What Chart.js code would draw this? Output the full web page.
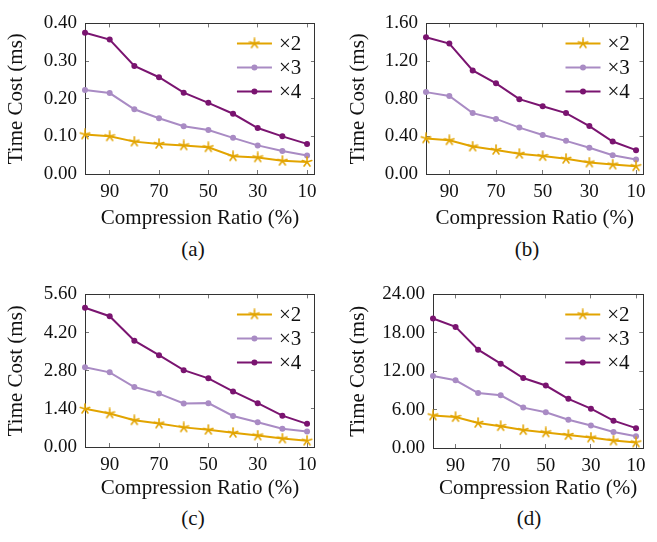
<!DOCTYPE html>
<html>
<head>
<meta charset="utf-8">
<script src="https://cdn.jsdelivr.net/npm/chart.js@4.4.1/dist/chart.umd.min.js"></script>
<style>
  body { margin: 0; background: #fff; }
  #wrap { position: relative; width: 657px; height: 542px; overflow: hidden; }
  canvas { position: absolute; }
  .cap { position: absolute; width: 60px; text-align: center; font: 21px "Liberation Serif", serif; color: #111; line-height: 24px; }
</style>
</head>
<body>
<div id="wrap">
  <canvas id="chartA" width="328" height="235" style="left:0px;top:0px"></canvas>
  <canvas id="chartB" width="316" height="235" style="left:341px;top:0px"></canvas>
  <canvas id="chartC" width="328" height="235" style="left:0px;top:271px"></canvas>
  <canvas id="chartD" width="316" height="235" style="left:341px;top:271px"></canvas>
  <div class="cap" style="left:163px;top:237px">(a)</div>
  <div class="cap" style="left:497px;top:237px">(b)</div>
  <div class="cap" style="left:163px;top:506px">(c)</div>
  <div class="cap" style="left:499px;top:506px">(d)</div>
</div>
<script>
// compression ratio (%)
const ratios = [100, 90, 80, 70, 60, 50, 40, 30, 20, 10];
const xTicks = [90, 70, 50, 30, 10];
const seriesNames = ['×2', '×3', '×4'];

// (a)
const a2 = [0.105, 0.100, 0.086, 0.080, 0.076, 0.071, 0.047, 0.044, 0.035, 0.032];
const a3 = [0.223, 0.215, 0.172, 0.148, 0.127, 0.117, 0.096, 0.076, 0.061, 0.049];
const a4 = [0.375, 0.357, 0.287, 0.257, 0.216, 0.189, 0.160, 0.122, 0.100, 0.080];
const aTicks = [0, 0.1, 0.2, 0.3, 0.4];

// (b)
const b2 = [0.378, 0.358, 0.292, 0.256, 0.214, 0.190, 0.161, 0.122, 0.100, 0.082];
const b3 = [0.870, 0.828, 0.647, 0.585, 0.493, 0.414, 0.352, 0.279, 0.200, 0.154];
const b4 = [1.452, 1.386, 1.100, 0.963, 0.795, 0.720, 0.647, 0.509, 0.345, 0.253];
const bTicks = [0, 0.4, 0.8, 1.2, 1.6];

// (c)
const c2 = [1.40, 1.23, 0.98, 0.86, 0.72, 0.63, 0.52, 0.42, 0.31, 0.23];
const c3 = [2.93, 2.74, 2.20, 1.96, 1.60, 1.61, 1.14, 0.91, 0.67, 0.57];
const c4 = [5.11, 4.80, 3.90, 3.37, 2.82, 2.52, 2.04, 1.61, 1.15, 0.85];
const cTicks = [0, 1.4, 2.8, 4.2, 5.6];

// (d)
const d2 = [5.08, 4.83, 3.92, 3.41, 2.80, 2.44, 2.03, 1.63, 1.17, 0.86];
const d3 = [11.24, 10.58, 8.59, 8.24, 6.31, 5.59, 4.42, 3.51, 2.49, 1.83];
const d4 = [20.24, 18.92, 15.36, 13.17, 10.93, 9.76, 7.68, 6.15, 4.27, 3.10];
const dTicks = [0, 6, 12, 18, 24];

const colors = ['#e2a400', '#a98bc4', '#7a1470'];
const serif = '"Liberation Serif", "Times New Roman", serif';
Chart.defaults.font.family = serif;
Chart.defaults.color = '#111';

// five spoke asterisk like the pgfplots star mark
function makeStar(color) {
  const c = document.createElement('canvas');
  c.width = 12; c.height = 12;
  const g = c.getContext('2d');
  g.strokeStyle = color;
  g.lineWidth = 1.6;
  g.lineCap = 'round';
  for (let k = 0; k < 5; k++) {
    const a = -Math.PI / 2 + k * 2 * Math.PI / 5;
    g.beginPath();
    g.moveTo(6, 6);
    g.lineTo(6 + 5 * Math.cos(a), 6 + 5 * Math.sin(a));
    g.stroke();
  }
  return c;
}
const starMark = makeStar(colors[0]);

const legendPlugin = {
  id: 'lineLegend',
  afterDraw(chart) {
    const ctx = chart.ctx;
    const area = chart.chartArea;
    ctx.save();
    chart.data.datasets.forEach((ds, i) => {
      const y = area.top + 20 + i * 24;
      const x0 = area.right - 78, x1 = area.right - 43;
      ctx.strokeStyle = ds.borderColor;
      ctx.lineWidth = 2;
      ctx.beginPath();
      ctx.moveTo(x0, y);
      ctx.lineTo(x1, y);
      ctx.stroke();
      const mx = (x0 + x1) / 2;
      if (ds.pointStyle === 'circle') {
        ctx.fillStyle = ds.borderColor;
        ctx.beginPath();
        ctx.arc(mx, y, 3, 0, Math.PI * 2);
        ctx.fill();
      } else {
        ctx.drawImage(ds.pointStyle, mx - 6, y - 6);
      }
      ctx.fillStyle = '#111';
      ctx.font = '21px ' + serif;
      ctx.textBaseline = 'middle';
      ctx.textAlign = 'left';
      ctx.fillText(ds.label, area.right - 36, y + 1);
    });
    ctx.restore();
  }
};

function series(vals, i) {
  return {
    label: seriesNames[i],
    data: ratios.map((r, k) => ({ x: r, y: vals[k] })),
    borderColor: colors[i],
    backgroundColor: colors[i],
    borderWidth: 2,
    pointStyle: i === 0 ? starMark : 'circle',
    pointRadius: i === 0 ? 5 : 3,
    pointBorderWidth: 0,
    tension: 0,
    clip: false
  };
}

function frameAxis(extra) {
  return Object.assign({
    border: { display: true, color: '#333', width: 1 },
    grid: { drawOnChartArea: false, tickLength: -4, color: '#777' }
  }, extra);
}

function makeChart(id, sets, yTicks, box) {
  const yMin = yTicks[0], yMax = yTicks[yTicks.length - 1];
  const setYTicks = s => { s.ticks = yTicks.map(v => ({ value: v })); };
  const setXTicks = s => { s.ticks = xTicks.map(v => ({ value: v })); };
  return new Chart(document.getElementById(id), {
    type: 'line',
    data: { datasets: sets.map(series) },
    options: {
      responsive: false,
      animation: false,
      devicePixelRatio: 1,
      layout: { padding: { left: 0, top: box.top, right: box.right, bottom: 0 } },
      plugins: { legend: { display: false }, tooltip: { enabled: false } },
      scales: {
        x: frameAxis({
          type: 'linear', reverse: true, min: 6.8, max: 100,
          afterBuildTicks: setXTicks,
          afterFit: s => { s.height = box.xh; },
          ticks: { padding: 11, font: { size: 19 }, callback: v => String(v) },
          title: { display: true, text: 'Compression Ratio (%)', font: { size: 21 },
                   padding: { top: 0, bottom: box.xt } }
        }),
        y: frameAxis({
          type: 'linear', min: yMin, max: yMax,
          afterBuildTicks: setYTicks,
          afterFit: s => { s.width = box.yw; },
          ticks: { padding: 12, font: { size: 19 }, callback: v => v.toFixed(2) },
          title: { display: true, text: 'Time Cost (ms)', font: { size: 21 },
                   padding: { top: box.yt, bottom: 0 } }
        }),
        x2: frameAxis({
          type: 'linear', position: 'top', reverse: true, min: 6.8, max: 100,
          afterBuildTicks: setXTicks,
          afterFit: s => { s.height = 0; },
          ticks: { display: false }
        }),
        y2: frameAxis({
          type: 'linear', position: 'right', min: yMin, max: yMax,
          afterBuildTicks: setYTicks,
          afterFit: s => { s.width = 0; },
          ticks: { display: false }
        })
      }
    },
    plugins: [legendPlugin]
  });
}

const chartA = makeChart('chartA', [a2, a3, a4], aTicks, { top: 13, right: 13, xh: 61, yw: 85, xt: 4, yt: 4 });
const chartB = makeChart('chartB', [b2, b3, b4], bTicks, { top: 13, right: 1, xh: 61, yw: 85, xt: 4, yt: 5 });
const chartC = makeChart('chartC', [c2, c3, c4], cTicks, { top: 13, right: 13, xh: 59, yw: 85, xt: 5, yt: 4 });
const chartD = makeChart('chartD', [d2, d3, d4], dTicks, { top: 20, right: 1, xh: 58, yw: 92, xt: 5, yt: 5 });
</script>
</body>
</html>
